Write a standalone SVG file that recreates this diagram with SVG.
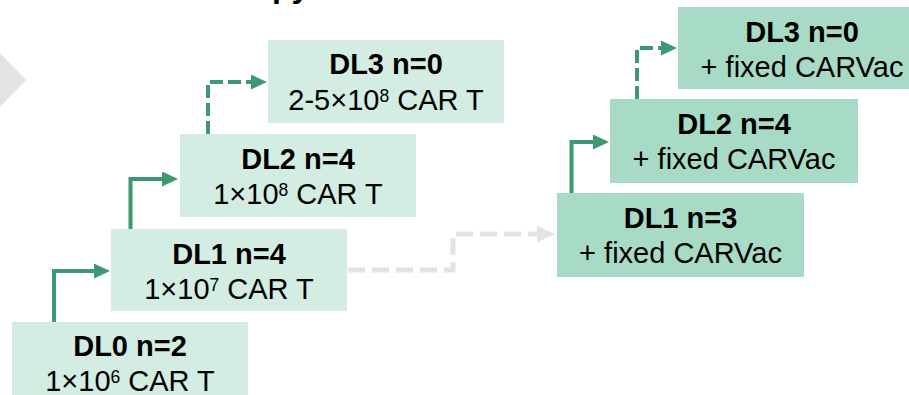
<svg xmlns="http://www.w3.org/2000/svg" width="909" height="395" viewBox="0 0 909 395">
  <defs>
    <style>
      .lite { fill: #d4ede2; }
      .dark { fill: #a7dbc6; }
      .t1 { font-family: "Liberation Sans", Arial, sans-serif; font-weight: bold; font-size: 29px; fill: #000; text-anchor: middle; }
      .t2 { font-family: "Liberation Sans", Arial, sans-serif; font-size: 29px; fill: #000; text-anchor: middle; }
      .sup { font-size: 17.5px; }
      .solid { fill: none; stroke: #3d9971; stroke-width: 4; }
      .dash { fill: none; stroke: #3d9971; stroke-width: 4; stroke-dasharray: 13 5; }
      .grey { fill: none; stroke: #e3e3e3; stroke-width: 5; stroke-dasharray: 17 7; }
    </style>
    <marker id="head" markerUnits="userSpaceOnUse" markerWidth="16" markerHeight="15" refX="0" refY="7.5" orient="auto">
      <path d="M0,0 L16,7.5 L0,15 z" fill="#3d9971"/>
    </marker>
    <marker id="headGrey" markerUnits="userSpaceOnUse" markerWidth="18" markerHeight="17" refX="0" refY="8.5" orient="auto">
      <path d="M0,0 L18,8.5 L0,17 z" fill="#e3e3e3"/>
    </marker>
  </defs>

  <!-- heading, mostly above the visible area -->
  <text x="272" y="-3" style="font-family: 'Liberation Sans', Arial, sans-serif; font-weight: bold; font-size: 32px;">py</text>

  <!-- grey chevron on the left edge -->
  <polygon points="0,53 26,80 0,107" fill="#e3e3e3"/>

  <!-- connectors -->
  <g id="connectors">
    <path class="solid" d="M54,322 V271 H94" marker-end="url(#head)"/>
    <path class="solid" d="M130.5,229 V179 H162" marker-end="url(#head)"/>
    <path class="dash" d="M208,134 V82 H251" marker-end="url(#head)"/>
    <path class="grey" d="M348,270 H453 V234 H537" marker-end="url(#headGrey)"/>
    <path class="solid" d="M571.5,193 V142 H593" marker-end="url(#head)"/>
    <path class="dash" d="M637,99 V48 H661" marker-end="url(#head)"/>
  </g>

  <!-- dose levels, left ladder -->
  <g id="dl0">
    <rect class="lite" x="12" y="322" width="236" height="83"/>
    <text class="t1" x="130" y="356">DL0 n=2</text>
    <text class="t2" x="130" y="391">1×10<tspan class="sup" dy="-8.5">6</tspan><tspan dy="8.5"> CAR T</tspan></text>
  </g>
  <g id="dl1">
    <rect class="lite" x="111" y="229" width="236" height="82"/>
    <text class="t1" x="229" y="264">DL1 n=4</text>
    <text class="t2" x="229" y="299">1×10<tspan class="sup" dy="-8.5">7</tspan><tspan dy="8.5"> CAR T</tspan></text>
  </g>
  <g id="dl2">
    <rect class="lite" x="180" y="134" width="236" height="83"/>
    <text class="t1" x="298" y="169">DL2 n=4</text>
    <text class="t2" x="298" y="204">1×10<tspan class="sup" dy="-8.5">8</tspan><tspan dy="8.5"> CAR T</tspan></text>
  </g>
  <g id="dl3">
    <rect class="lite" x="268" y="40" width="236" height="83"/>
    <text class="t1" x="386" y="74">DL3 n=0</text>
    <text class="t2" x="386" y="110">2-5×10<tspan class="sup" dy="-8.5">8</tspan><tspan dy="8.5"> CAR T</tspan></text>
  </g>

  <!-- dose levels with fixed CARVac, right ladder -->
  <g id="vac-dl1">
    <rect class="dark" x="557" y="193" width="247" height="84"/>
    <text class="t1" x="680.5" y="228">DL1 n=3</text>
    <text class="t2" x="680.5" y="263">+ fixed CARVac</text>
  </g>
  <g id="vac-dl2">
    <rect class="dark" x="610" y="99" width="248" height="84"/>
    <text class="t1" x="734" y="134">DL2 n=4</text>
    <text class="t2" x="734" y="169">+ fixed CARVac</text>
  </g>
  <g id="vac-dl3">
    <rect class="dark" x="678" y="7" width="248" height="82"/>
    <text class="t1" x="802" y="42">DL3 n=0</text>
    <text class="t2" x="802" y="77">+ fixed CARVac</text>
  </g>
</svg>
